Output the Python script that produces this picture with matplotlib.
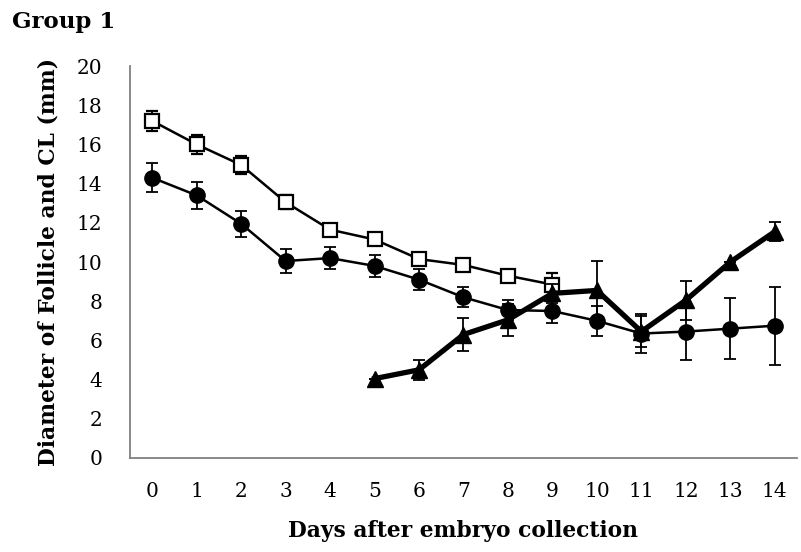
import numpy as np
import matplotlib.pyplot as plt

plt.rcParams['font.family'] = ['DejaVu Serif']

days = list(range(15))

# follicle (open squares), days 0-9
sq_x = days[0:10]
sq_y = [17.2, 16.0, 14.95, 13.05, 11.65, 11.15, 10.15, 9.85, 9.3, 8.85]
sq_e = [0.5, 0.5, 0.45, 0.35, 0.2, 0.2, 0.2, 0.2, 0.2, 0.6]

# filled circles, days 0-14
ci_x = days
ci_y = [14.3, 13.4, 11.95, 10.05, 10.2, 9.8, 9.1, 8.2, 7.55, 7.5, 7.0, 6.35, 6.45, 6.6, 6.75]
ci_e = [0.75, 0.7, 0.65, 0.6, 0.55, 0.55, 0.55, 0.5, 0.5, 0.6, 0.75, 1.0, 1.45, 1.55, 2.0]

# CL (triangles), days 5-14
tr_x = days[5:]
tr_y = [4.05, 4.5, 6.3, 7.05, 8.4, 8.55, 6.45, 8.05, 10.0, 11.55]
tr_e = [0.0, 0.5, 0.85, 0.8, 0.5, 1.5, 0.8, 1.0, 0.0, 0.5]

fig = plt.figure(figsize=(8.01, 5.52), dpi=100)
ax = fig.add_axes([0.1623, 0.1703, 0.8327, 0.7101])

ax.errorbar(sq_x, sq_y, yerr=sq_e, color='black', linewidth=1.8, marker='s',
            markersize=10, markerfacecolor='white', markeredgecolor='black',
            markeredgewidth=1.6, ecolor='black', elinewidth=1.3, capsize=4, capthick=1.3, zorder=3)
ax.errorbar(ci_x, ci_y, yerr=ci_e, color='black', linewidth=1.8, marker='o',
            markersize=11, ecolor='black', elinewidth=1.3, capsize=4, capthick=1.3, zorder=4)
ax.errorbar(tr_x, tr_y, yerr=tr_e, color='black', linewidth=3.8, marker='^',
            markersize=11, ecolor='black', elinewidth=1.3, capsize=4, capthick=1.3, zorder=5)

ax.set_xlim(-0.5, 14.5)
ax.set_ylim(0, 20)
ax.set_xticks(days)
ax.set_yticks(range(0, 21, 2))
ax.tick_params(axis='both', length=0, labelsize=14.5)
ax.tick_params(axis='x', pad=17)
ax.tick_params(axis='y', pad=20)

for s in ['top', 'right']:
    ax.spines[s].set_visible(False)
for s in ['left', 'bottom']:
    ax.spines[s].set_color('#808080')
    ax.spines[s].set_linewidth(1.3)

ax.set_xlabel('Days after embryo collection', fontsize=15.7, fontweight='bold', labelpad=14)
ax.set_ylabel('Diameter of Follicle and CL (mm)', fontsize=15.7, fontweight='bold', labelpad=12)
fig.text(0.015, 0.96, 'Group 1', fontsize=16.5, fontweight='bold', va='center', ha='left')

fig.savefig('out.png', dpi=100)
